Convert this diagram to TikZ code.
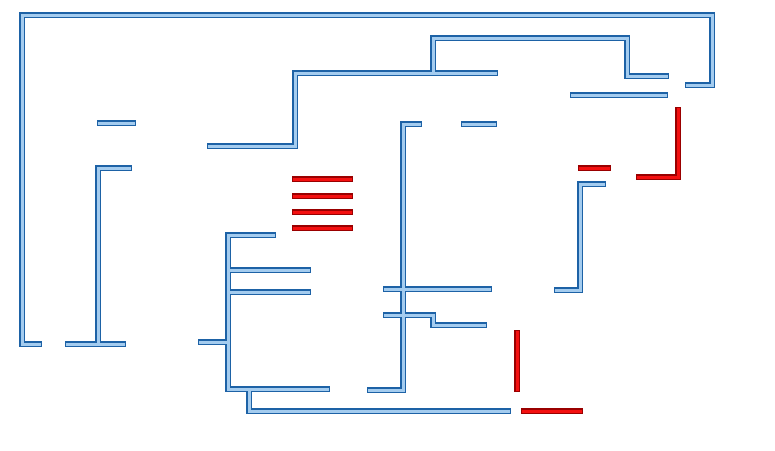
\documentclass[tikz,border=0pt]{standalone}
\usepackage{tikz}
\definecolor{pipeedge}{HTML}{1D62A6}
\definecolor{pipefill}{HTML}{A4CCEF}
\definecolor{baredge}{HTML}{9A0000}
\definecolor{barfill}{HTML}{F41010}
% whole network, drawn once per pass so that joints merge
\newcommand\pipenet[1]{%
 % outer frame
 \draw[#1] (685,85) -- (712,85) -- (712,15) -- (22,15) -- (22,344) -- (42,344);
 % upper run
 \draw[#1] (207,146) -- (295,146) -- (295,73) -- (498,73);
 \draw[#1] (433,73) -- (433,38) -- (627,38) -- (627,76) -- (669,76);
 \draw[#1] (570,95) -- (668,95);
 \draw[#1] (97,123) -- (136,123);
 \draw[#1] (461,124) -- (497,124);
 % left riser
 \draw[#1] (132,168) -- (98,168) -- (98,344);
 \draw[#1] (65,344) -- (126,344);
 % middle riser
 \draw[#1] (422,124) -- (403,124) -- (403,390) -- (367,390);
 \draw[#1] (383,289) -- (492,289);
 \draw[#1] (383,315) -- (433,315) -- (433,325) -- (487,325);
 % right riser
 \draw[#1] (606,184) -- (580,184) -- (580,290) -- (554,290);
 % branch tree
 \draw[#1] (276,235) -- (228,235) -- (228,389) -- (330,389);
 \draw[#1] (228,270) -- (311,270);
 \draw[#1] (228,292) -- (311,292);
 \draw[#1] (198,342) -- (228,342);
 \draw[#1] (249,389) -- (249,411) -- (511,411);
}
\newcommand\barnet[1]{%
 \foreach \y in {179,196,212,228}
   \draw[#1] (292,\y) -- (353,\y);
 \draw[#1] (578,168) -- (611,168);
 \draw[#1] (678,107) -- (678,177) -- (636,177);
 \draw[#1] (517,330) -- (517,392);
 \draw[#1] (521,411) -- (583,411);
}
\begin{document}
\begin{tikzpicture}[
 x=1pt,y=-1pt,
 pipeout/.style={draw=pipeedge,line width=6pt,line join=miter},
 pipein/.style={draw=pipefill,line width=3pt,line join=miter,shorten <=1.2pt,shorten >=1.2pt},
 barout/.style={draw=baredge,line width=5.8pt,line join=miter},
 barin/.style={draw=barfill,line width=3pt,line join=miter,shorten <=1.2pt,shorten >=1.2pt}
]
\useasboundingbox (0,0) rectangle (775,450);
\pipenet{pipeout}
\pipenet{pipein}
\barnet{barout}
\barnet{barin}
\end{tikzpicture}
\end{document}
